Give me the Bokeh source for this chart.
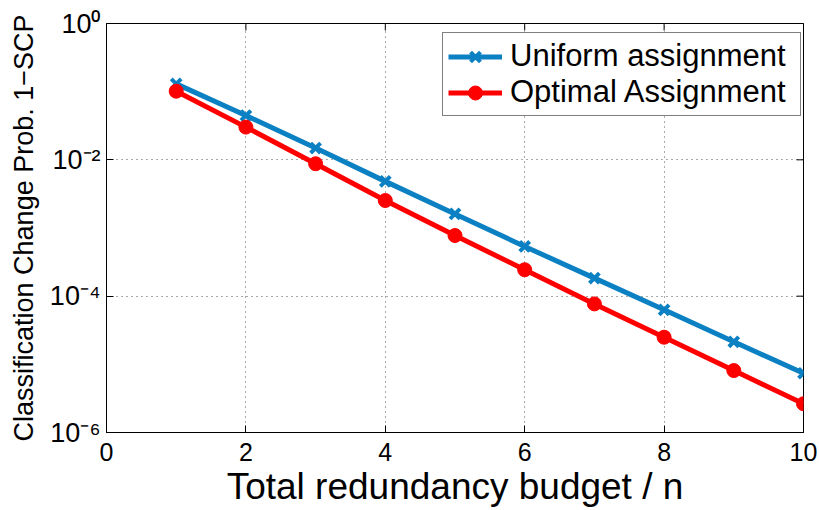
import math
from bokeh.plotting import figure
from bokeh.models import FixedTicker, Legend, LegendItem, Range1d
from bokeh.embed import file_html
from bokeh.resources import INLINE

budget = [1, 2, 3, 4, 5, 6, 7, 8, 9, 10]
uniform = [0.130, 0.0447, 0.0149, 4.83e-3, 1.61e-3, 5.36e-4, 1.84e-4, 6.3e-5, 2.14e-5, 7.4e-6]
optimal = [0.1016, 0.0302, 8.77e-3, 2.53e-3, 7.76e-4, 2.44e-4, 7.7e-5, 2.5e-5, 8.1e-6, 2.64e-6]
x_ticks = [0, 2, 4, 6, 8, 10]
y_ticks = [1.0, 1e-2, 1e-4, 1e-6]
y_tick_labels = ["10\u2070", "10\u207b\u00b2", "10\u207b\u2074", "10\u207b\u2076"]
series_names = ["Uniform assignment", "Optimal Assignment"]
blue = "#0b80c3"
red = "#ff0000"
FONT = "Liberation Sans"

p = figure(width=819, height=510, y_axis_type="log",
           x_range=Range1d(0, 10), y_range=Range1d(1e-6, 1),
           output_backend="svg", toolbar_location=None,
           min_border_left=106, min_border_right=16, min_border_top=23, min_border_bottom=78)
p.background_fill_color = "white"
p.border_fill_color = "white"
p.outline_line_color = "black"
p.outline_line_width = 1

for ax in (p.xaxis[0], p.yaxis[0]):
    ax.axis_line_color = "black"
    ax.major_tick_line_color = "black"
    ax.major_tick_in = 7
    ax.major_tick_out = 0
    ax.minor_tick_line_color = None
    ax.major_label_text_font = FONT
    ax.major_label_text_font_size = "25px"
    ax.major_label_text_color = "black"
    ax.axis_label_text_font = FONT
    ax.axis_label_text_font_style = "normal"
    ax.axis_label_text_color = "black"

p.xaxis[0].ticker = FixedTicker(ticks=x_ticks)
p.xaxis[0].major_label_standoff = 10
p.xaxis[0].axis_label = "Total redundancy budget / n"
p.xaxis[0].axis_label_text_font_size = "37px"
p.xaxis[0].axis_label_standoff = 2

p.yaxis[0].ticker = FixedTicker(ticks=y_ticks)
p.yaxis[0].major_label_overrides = {t: l for t, l in zip(y_ticks, y_tick_labels)}
p.yaxis[0].major_label_text_font_size = "27px"
p.yaxis[0].major_label_standoff = 6
p.yaxis[0].axis_label = "Classification Change Prob. 1\u2212SCP"
p.yaxis[0].axis_label_text_font_size = "27px"
p.yaxis[0].axis_label_standoff = 8

# grid
p.xgrid.ticker = FixedTicker(ticks=x_ticks)
p.ygrid.ticker = FixedTicker(ticks=y_ticks)
for g in (p.xgrid[0], p.ygrid[0]):
    g.grid_line_color = "#555555"
    g.grid_line_dash = "1 4"
    g.grid_line_width = 1
    g.minor_grid_line_color = None

# inward tick marks on the top and right edges of the box (half of each mark is clipped)
p.scatter(x_ticks, [p.y_range.end] * len(x_ticks), marker="dash", angle=math.pi / 2,
          size=14, line_color="black", line_width=1)
p.scatter([p.x_range.end] * len(y_ticks), y_ticks, marker="dash",
          size=14, line_color="black", line_width=1)

# data
l1 = p.line(budget, uniform, line_color=blue, line_width=5)
s1 = p.scatter(budget, uniform, marker="x", size=14, line_color=blue, line_width=4)
l2 = p.line(budget, optimal, line_color=red, line_width=5)
s2 = p.scatter(budget, optimal, marker="circle", size=14, fill_color=red, line_color=red)

legend = Legend(items=[LegendItem(label=series_names[0], renderers=[l1, s1]),
                       LegendItem(label=series_names[1], renderers=[l2, s2])],
                location=(336, 316), margin=0, padding=5, spacing=0,
                glyph_width=54, glyph_height=35, label_height=35, label_width=285,
                label_standoff=8,
                label_text_font=FONT, label_text_font_size="31px", label_text_color="black",
                border_line_color="black", border_line_width=1,
                background_fill_color="white", background_fill_alpha=1)
p.add_layout(legend, "center")

open("out.html", "w").write(file_html(p, INLINE))
